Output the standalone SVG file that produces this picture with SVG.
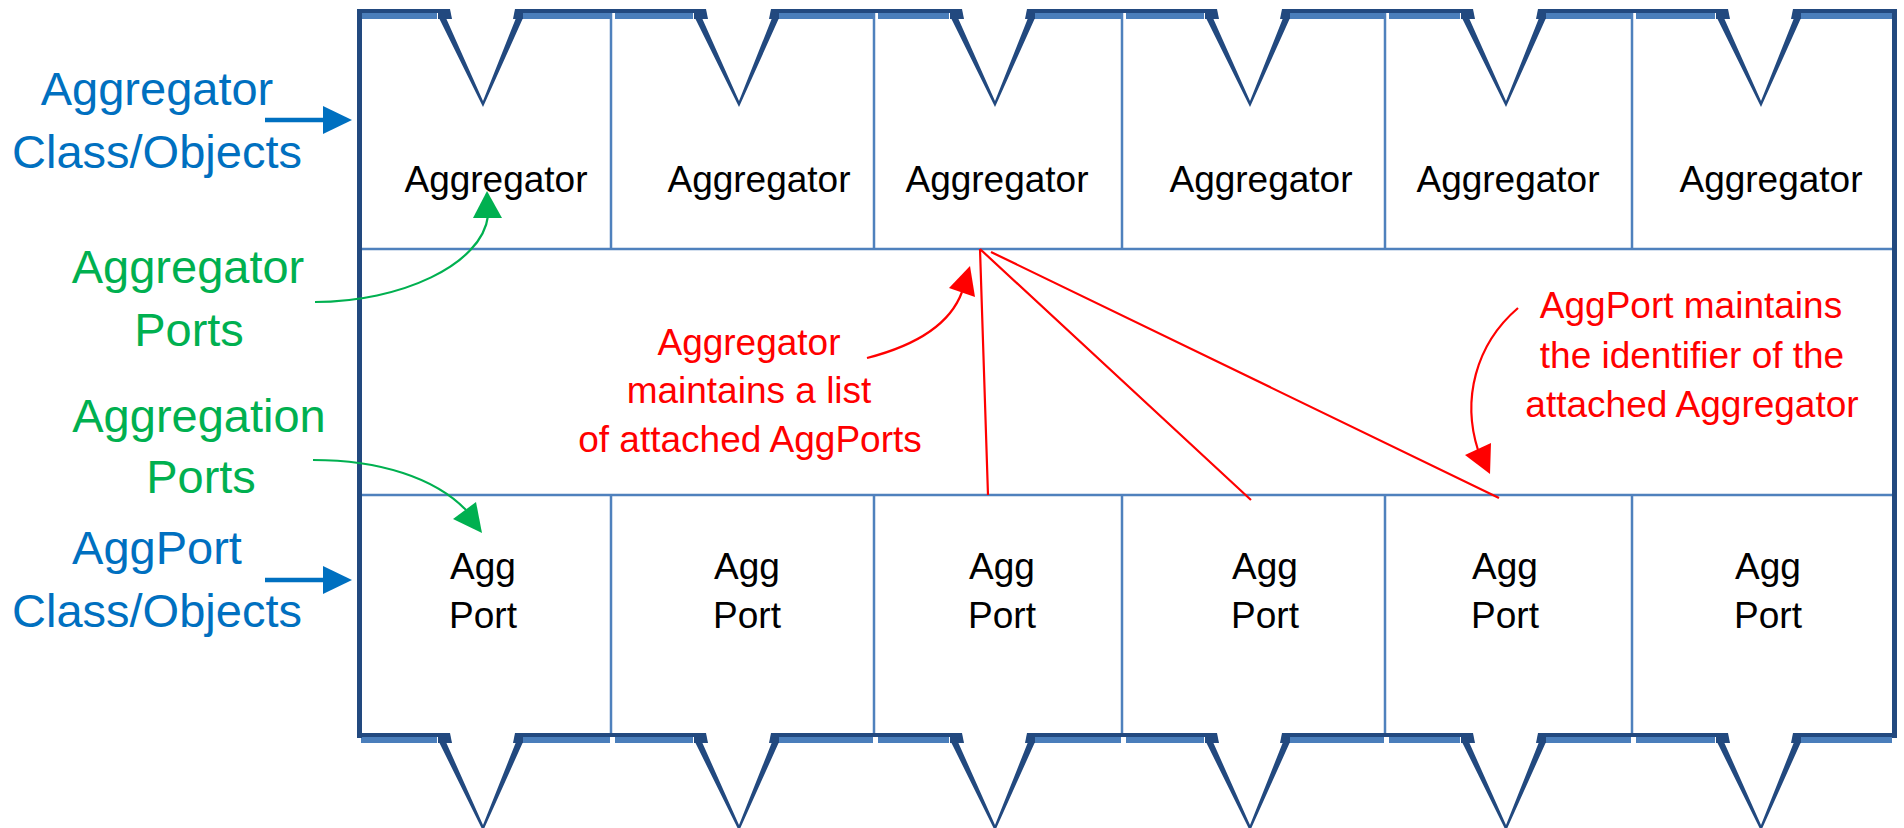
<svg xmlns="http://www.w3.org/2000/svg" xmlns:xlink="http://www.w3.org/1999/xlink" width="1904" height="828" viewBox="0 0 1904 828">
<style>
.dk{fill:#22497f}
.lt{fill:#4a7ebb}
.grid{stroke:#4f81bd;stroke-width:2.5;fill:none}
.t{font-family:"Liberation Sans",Arial,sans-serif;font-size:37px;fill:#000;text-anchor:middle}
.lb{font-family:"Liberation Sans",Arial,sans-serif;font-size:47px;text-anchor:middle}
.blue{fill:#0070c0}
.green{fill:#00b050}
.red{fill:#ff0000}
.rl{stroke:#ff0000;stroke-width:2.2;fill:none}
.gl{stroke:#00b050;stroke-width:2.2;fill:none}
.bl{stroke:#0070c0;stroke-width:4.5;fill:none}
</style>
<defs>
<g id="edge">
<rect class="lt" x="361" y="13" width="76" height="6"/>
<rect class="lt" x="523" y="13" width="87" height="6"/>
<rect class="lt" x="615" y="13" width="78" height="6"/>
<rect class="lt" x="779" y="13" width="94" height="6"/>
<rect class="lt" x="878" y="13" width="71" height="6"/>
<rect class="lt" x="1035" y="13" width="86" height="6"/>
<rect class="lt" x="1126" y="13" width="78" height="6"/>
<rect class="lt" x="1290" y="13" width="94" height="6"/>
<rect class="lt" x="1389" y="13" width="71" height="6"/>
<rect class="lt" x="1546" y="13" width="85" height="6"/>
<rect class="lt" x="1636" y="13" width="79" height="6"/>
<rect class="lt" x="1801" y="13" width="91" height="6"/>
<rect class="dk" x="357" y="9" width="93" height="4"/>
<rect class="dk" x="515" y="9" width="191" height="4"/>
<rect class="dk" x="771" y="9" width="191" height="4"/>
<rect class="dk" x="1027" y="9" width="190" height="4"/>
<rect class="dk" x="1282" y="9" width="191" height="4"/>
<rect class="dk" x="1538" y="9" width="190" height="4"/>
<rect class="dk" x="1793" y="9" width="104" height="4"/>
<g id="notch">
<polygon class="dk" points="438,9 450,9 452,19 438,19"/>
<polygon class="dk" points="515,9 523,9 523,19 513,19"/>
<polygon class="dk" points="439,18 483,107 523,18 516,18 483,101 446,18"/>
</g>
<use xlink:href="#notch" transform="translate(256,0)"/>
<use xlink:href="#notch" transform="translate(512,0)"/>
<use xlink:href="#notch" transform="translate(767,0)"/>
<use xlink:href="#notch" transform="translate(1023,0)"/>
<use xlink:href="#notch" transform="translate(1278,0)"/>
</g>
</defs>

<g id="frame">
<use xlink:href="#edge"/>
<use xlink:href="#edge" transform="translate(0,724)"/>
<rect class="dk" x="357" y="9" width="5" height="729"/>
<rect class="dk" x="1892" y="9" width="5" height="729"/>
<path class="grid" d="M362,249 H1892 M362,495 H1892"/>
<path class="grid" d="M611,13 V249 M874,13 V249 M1122,13 V249 M1385,13 V249 M1632,13 V249"/>
<path class="grid" d="M611,495 V733 M874,495 V733 M1122,495 V733 M1385,495 V733 M1632,495 V733"/>
</g>

<g id="aggregator-1"><text class="t" x="496" y="192">Aggregator</text></g>
<g id="aggregator-2"><text class="t" x="759" y="192">Aggregator</text></g>
<g id="aggregator-3"><text class="t" x="997" y="192">Aggregator</text></g>
<g id="aggregator-4"><text class="t" x="1261" y="192">Aggregator</text></g>
<g id="aggregator-5"><text class="t" x="1508" y="192">Aggregator</text></g>
<g id="aggregator-6"><text class="t" x="1771" y="192">Aggregator</text></g>

<g id="aggport-1"><text class="t" x="483" y="579">Agg</text><text class="t" x="483" y="628">Port</text></g>
<g id="aggport-2"><text class="t" x="747" y="579">Agg</text><text class="t" x="747" y="628">Port</text></g>
<g id="aggport-3"><text class="t" x="1002" y="579">Agg</text><text class="t" x="1002" y="628">Port</text></g>
<g id="aggport-4"><text class="t" x="1265" y="579">Agg</text><text class="t" x="1265" y="628">Port</text></g>
<g id="aggport-5"><text class="t" x="1505" y="579">Agg</text><text class="t" x="1505" y="628">Port</text></g>
<g id="aggport-6"><text class="t" x="1768" y="579">Agg</text><text class="t" x="1768" y="628">Port</text></g>

<g id="label-aggregator-class">
<text class="lb blue" x="157" y="105">Aggregator</text>
<text class="lb blue" x="157" y="168">Class/Objects</text>
</g>
<g id="label-aggregator-ports">
<text class="lb green" x="188" y="283">Aggregator</text>
<text class="lb green" x="189" y="346">Ports</text>
</g>
<g id="label-aggregation-ports">
<text class="lb green" x="199" y="432">Aggregation</text>
<text class="lb green" x="201" y="493">Ports</text>
</g>
<g id="label-aggport-class">
<text class="lb blue" x="157" y="564">AggPort</text>
<text class="lb blue" x="157" y="627">Class/Objects</text>
</g>
<g id="note-aggregator-list">
<text class="t red" x="749" y="355">Aggregator</text>
<text class="t red" x="749" y="403">maintains a list</text>
<text class="t red" x="750" y="452">of attached AggPorts</text>
</g>
<g id="note-aggport-id">
<text class="t red" x="1691" y="318">AggPort maintains</text>
<text class="t red" x="1692" y="368">the identifier of the</text>
<text class="t red" x="1692" y="417">attached Aggregator</text>
</g>

<g id="connectors">
<path class="bl" d="M265,120 H325"/>
<polygon class="blue" points="323,106 352,120 323,134"/>
<path class="bl" d="M265,580 H325"/>
<polygon class="blue" points="323,566 352,580 323,594"/>
<path class="gl" d="M315,302 C400,302 482,265 488,216"/>
<polygon class="green" points="487,191 502,218 473,218"/>
<path class="gl" d="M313,460 C380,460 435,478 466,510"/>
<polygon class="green" points="482,533 453,519 476,502"/>
<path class="rl" d="M980,249 L988,495 M980,249 L1251,500 M991,252 L1499,498"/>
<path class="rl" d="M867,358 Q945,338 962,292"/>
<polygon class="red" points="970,266 975,297 949,288"/>
<path class="rl" d="M1518,308 C1475,345 1462,400 1478,450"/>
<polygon class="red" points="1490,474 1465,455 1491,443"/>
</g>
</svg>
